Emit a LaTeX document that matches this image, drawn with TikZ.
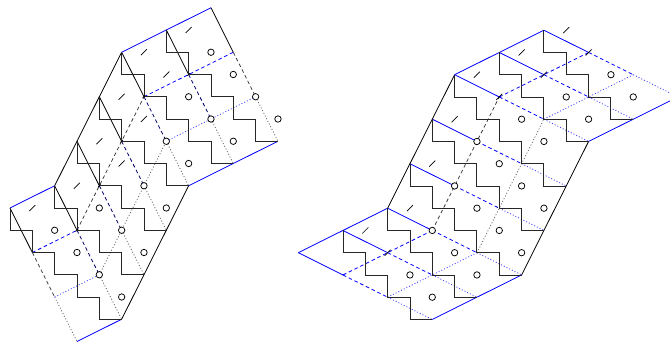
\documentclass[tikz,border=0pt]{standalone}
\tikzset{
  base/.style={line width=0.8pt},
  blk/.style={base,draw=black},
  blkdash/.style={base,draw=black!75,dash pattern=on 3.6pt off 2.8pt},
  blkdot/.style={base,draw=black!60,dash pattern=on 1pt off 2pt},
  navydash/.style={base,draw=black!60!blue,dash pattern=on 3.6pt off 2.8pt},
  blu/.style={base,draw=blue},
  bludash/.style={base,draw=blue,dash pattern=on 3.6pt off 2.8pt},
  bludot/.style={base,draw=blue!75,dash pattern=on 1pt off 2pt},
  stair/.style={line width=0.9pt,draw=black!85,line join=miter},
  ring/.style={line width=0.75pt,draw=black,fill=white},
  tick/.style={line width=0.7pt,draw=black}
}
\newcommand{\ticks}[1]{\foreach \i/\j in {#1} \draw[tick] (\i,\j) ++(-3pt,-3pt) -- ++(6pt,6pt);}
\newcommand{\minis}[1]{\foreach \i/\j in {#1} \draw[tick] (\i,\j) ++(-1.3pt,-1.3pt) -- ++(2.6pt,2.6pt);}
\newcommand{\rings}[1]{\foreach \i/\j in {#1} \draw[ring] (\i,\j) circle (3.2pt);}
\begin{document}
\begin{tikzpicture}[x=1pt,y=1pt]
\useasboundingbox (0,0) rectangle (670,-343);
\clip (0,0) rectangle (670,-343);
% left figure
\begin{scope}[shift={(10pt,-208pt)},x=22.33pt,y=-22.25pt]
  % direction (1,2)
  \foreach \i/\j in {0/0,2/-1,3/-3,4/-5,5/-7,7/-8,9/-9} {
    \draw[blk] (\i,\j) -- ++(1,2);
  }
  \draw[blkdash] (1,2) -- (2,4);
  \draw[blkdash] (10,-7) -- (11,-5);
  \foreach \i/\j in {3/1,4/-1,5/-3,6/-5,8/-6} {
    \draw[navydash] (\i,\j) -- ++(1,2);
  }
  \foreach \i/\j in {2/4,4/3,5/1,6/-1,7/-3,9/-4,11/-5} {
    \draw[blkdot] (\i,\j) -- ++(1,2);
  }
  % outer black
  \draw[blk] (2,-1) -- (5,-7);
  \draw[blk] (5,5) -- (8,-1);
  % blue edges
  \draw[blu] (0,0) -- (2,-1);
  \draw[blu] (5,-7) -- (9,-9);
  \draw[blu] (3,6) -- (5,5);
  \draw[blu] (8,-1) -- (12,-3);
  % interior lines
  \draw[bludash] (1,2) -- (3,1);
  \draw[blkdash] (3,1) -- (6,-5);
  \draw[bludash] (6,-5) -- (10,-7);
  \draw[bludot] (2,4) -- (4,3);
  \draw[blkdot] (4,3) -- (7,-3);
  \draw[bludot] (7,-3) -- (11,-5);
  % stairs
  \draw[stair] (0,0) -- (0,1) -- (1,1) -- (1,2) -- (2,2) -- (2,3) -- (3,3) -- (3,4) -- (4,4) -- (4,5) -- (5,5);
  \draw[stair] (2,-1) -- (2,0) -- (3,0) -- (3,1) -- (4,1) -- (4,2) -- (5,2) -- (5,3) -- (6,3);
  \draw[stair] (3,-3) -- (3,-2) -- (4,-2) -- (4,-1) -- (5,-1) -- (5,0) -- (6,0) -- (6,1) -- (7,1);
  \draw[stair] (4,-5) -- (4,-4) -- (5,-4) -- (5,-3) -- (6,-3) -- (6,-2) -- (7,-2) -- (7,-1) -- (8,-1);
  \draw[stair] (5,-7) -- (5,-6) -- (6,-6) -- (6,-5) -- (7,-5) -- (7,-4) -- (8,-4) -- (8,-3) -- (9,-3) -- (9,-2) -- (10,-2);
  \draw[stair] (7,-8) -- (7,-7) -- (8,-7) -- (8,-6) -- (9,-6) -- (9,-5) -- (10,-5) -- (10,-4) -- (11,-4) -- (11,-3) -- (12,-3);
  \ticks{1/0,3/-1,4/-3,5/-2,5/-5,6/-4,6/-7,7/-6,8/-8}
  \minis{3/1,4/-1,5/-3,6/-5,8/-6}
  \rings{2/1,4/0,3/2,5/1,7/0,6/-1,6/2,4/3,5/4,9/-7,10/-6,8/-5,11/-5,9/-4,12/-4,7/-3,10/-3,8/-2}
\end{scope}
% right figure
\begin{scope}[shift={(298.3pt,-252.7pt)},x=22.33pt,y=-22.25pt]
  % direction (2,1)
  \foreach \i/\j in {0/0,2/-1,4/-2,5/-4,6/-6,7/-8,9/-9,11/-10} {
    \draw[blu] (\i,\j) -- ++(2,1);
    \draw[bludash] (\i+2,\j+1) -- ++(2,1);
    \draw[bludot] (\i+4,\j+2) -- ++(2,1);
  }
  % outer
  \draw[blu] (0,0) -- (4,-2);
  \draw[blk] (4,-2) -- (7,-8);
  \draw[blu] (7,-8) -- (11,-10);
  \draw[blu] (17,-7) -- (13,-5);
  \draw[blk] (13,-5) -- (10,1);
  \draw[blu] (10,1) -- (6,3);
  % interior
  \draw[bludash] (2,1) -- (6,-1);
  \draw[blkdash] (6,-1) -- (9,-7);
  \draw[bludash] (9,-7) -- (13,-9);
  \draw[bludot] (4,2) -- (8,0);
  \draw[blkdot] (8,0) -- (11,-6);
  \draw[bludot] (11,-6) -- (15,-8);
  % stairs
  \draw[stair] (2,-1) -- (2,0) -- (3,0) -- (3,1) -- (4,1) -- (4,2) -- (5,2) -- (5,3) -- (6,3);
  \draw[stair] (4,-2) -- (4,-1) -- (5,-1) -- (5,0) -- (6,0) -- (6,1) -- (7,1) -- (7,2) -- (8,2);
  \draw[stair] (5,-4) -- (5,-3) -- (6,-3) -- (6,-2) -- (7,-2) -- (7,-1) -- (8,-1) -- (8,0) -- (9,0) -- (9,1) -- (10,1);
  \draw[stair] (6,-6) -- (6,-5) -- (7,-5) -- (7,-4) -- (8,-4) -- (8,-3) -- (9,-3) -- (9,-2) -- (10,-2) -- (10,-1) -- (11,-1);
  \draw[stair] (7,-8) -- (7,-7) -- (8,-7) -- (8,-6) -- (9,-6) -- (9,-5) -- (10,-5) -- (10,-4) -- (11,-4) -- (11,-3) -- (12,-3);
  \draw[stair] (9,-9) -- (9,-8) -- (10,-8) -- (10,-7) -- (11,-7) -- (11,-6) -- (12,-6) -- (12,-5) -- (13,-5);
  \draw[stair] (11,-10) -- (11,-9) -- (12,-9) -- (12,-8) -- (13,-8) -- (13,-7) -- (14,-7) -- (14,-6) -- (15,-6);
  \ticks{3/-1,5/-2,6/-4,7/-6,8/-8,10/-9,12/-10,4/0,9/-7,11/-8,13/-9}
  \rings{6/-1,7/-3,8/-5,10/-6,11/-5,9/-4,10/-3,8/-2,9/-1,11/-2,7/0,10/0,5/1,8/1,6/2,14/-8,12/-7,15/-7,13/-6}
\end{scope}
\end{tikzpicture}
\end{document}
